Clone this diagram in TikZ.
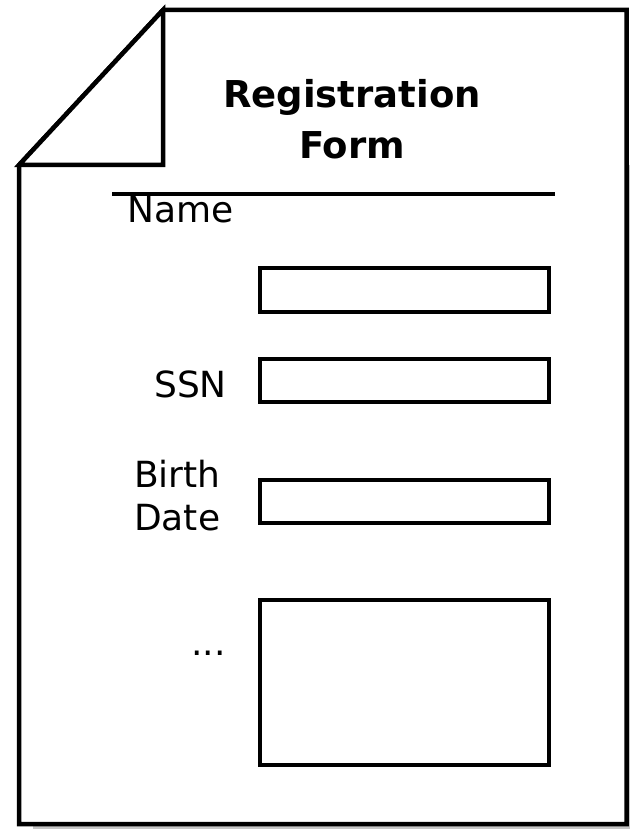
\documentclass[tikz,border=0pt]{standalone}
\usepackage{fontspec}
\setmainfont{DejaVu Sans}
\begin{document}
\begin{tikzpicture}[x=1pt,y=-1pt,
    page/.style={line width=4.5pt,line join=miter,fill=white},
    field/.style={line width=4.5pt},
    lbl/.style={inner sep=0pt,font=\fontsize{36}{43}\selectfont},
    ttl/.style={inner sep=0pt,font=\bfseries\fontsize{37}{51}\selectfont}]
        \useasboundingbox (0,0) rectangle (629,829);
        \fill[gray!45] (33,165) rectangle (640,840);
        \draw[page] (19,165) -- (163,10) -- (626.5,10) -- (626.5,824) -- (19,824) -- cycle;
        \draw[page] (19,165) -- (163,10) -- (163,165) -- cycle;
        \node[ttl,anchor=base] (titleA) at (352,108) {Registration};
        \node[ttl,anchor=base] (titleB) at (352,159) {Form};
        \draw [line width=4pt] (112,193.5) -- (555,193.5);
        \node[lbl,anchor=base west] (name) at (127,222) {Name};
        \node[lbl,anchor=base east] (ssn) at (227,397) {SSN};
        \node[lbl,anchor=base west] (birth) at (134,487) {Birth};
        \node[lbl,anchor=base west] (date) at (134,530) {Date};
        \node[lbl,anchor=base west] (dots) at (191,655) {...};
        \draw[field] (260,268) rectangle (549,312);
        \draw[field] (260,359) rectangle (549,402);
        \draw[field] (260,480) rectangle (549,523);
        \draw[field] (260,600) rectangle (549,765);
      \end{tikzpicture}
\end{document}
